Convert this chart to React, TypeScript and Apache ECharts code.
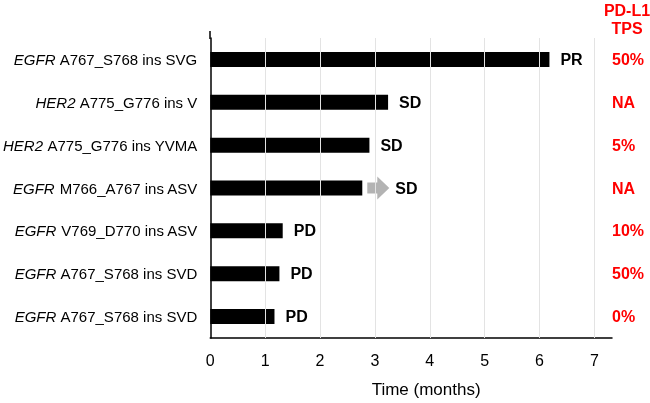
import React, { useEffect, useRef } from "react";
import * as echarts from "echarts";

const genes = ["EGFR", "HER2", "HER2", "EGFR", "EGFR", "EGFR", "EGFR"];
const variants = [
  "A767_S768 ins SVG",
  "A775_G776 ins V",
  "A775_G776 ins YVMA",
  "M766_A767 ins ASV",
  "V769_D770 ins ASV",
  "A767_S768 ins SVD",
  "A767_S768 ins SVD",
];
const months = [6.18, 3.24, 2.9, 2.77, 1.32, 1.26, 1.17];
const responses = ["PR", "SD", "SD", "SD", "PD", "PD", "PD"];
const ongoing = [false, false, false, true, false, false, false];
const tps = ["50%", "NA", "5%", "NA", "10%", "50%", "0%"];
const xTicks = [1, 2, 3, 4, 5, 6, 7];

const FONT = "'Liberation Sans', Arial, sans-serif";

export default function App() {
  const ref = useRef<HTMLDivElement>(null);
  useEffect(() => {
    if (!ref.current) return;
    const chart = echarts.init(ref.current, null, { renderer: "svg" });
    const cats = genes.map((_, i) => String(i));
    const arrowData = months
      .map((m, i) => (ongoing[i] ? [m, i] : null))
      .filter((d) => d !== null);
    chart.setOption({
      animation: false,
      textStyle: { fontFamily: FONT },
      grid: { left: 210, right: 38, top: 38, bottom: 60 },
      xAxis: {
        type: "value",
        min: 0,
        max: 7.32,
        interval: 1,
        axisLine: { show: true, lineStyle: { color: "#000", width: 1.5 } },
        axisTick: { show: false },
        splitLine: { show: false },
        axisLabel: {
          color: "#000",
          fontSize: 16,
          fontFamily: FONT,
          margin: 14,
          showMaxLabel: false,
          formatter: (v: number) => (Number.isInteger(v) ? String(v) : ""),
        },
        name: "Time (months)",
        nameLocation: "middle",
        nameGap: 43,
        nameTextStyle: {
          color: "#000",
          fontSize: 17,
          fontFamily: FONT,
          padding: [0, 0, 0, 30],
        },
      },
      yAxis: [
        {
          type: "category",
          data: cats,
          inverse: true,
          axisLine: { show: true, lineStyle: { color: "#000", width: 1.5 } },
          axisTick: { show: false },
          axisLabel: {
            margin: 13,
            fontSize: 15,
            color: "#000",
            fontFamily: FONT,
            formatter: (_v: string, i: number) => `{i|${genes[i]}} ${variants[i]}`,
            rich: {
              i: { fontStyle: "italic", fontSize: 15, color: "#000", fontFamily: FONT },
            },
          },
        },
        {
          type: "category",
          data: tps,
          inverse: true,
          position: "right",
          axisLine: { show: false },
          axisTick: { show: false },
          axisLabel: {
            margin: 0,
            color: "#ff0000",
            fontWeight: "bold",
            fontSize: 16,
            fontFamily: FONT,
          },
        },
      ],
      graphic: [
        {
          type: "text",
          x: 627,
          y: 1,
          style: {
            text: "PD-L1\nTPS",
            align: "center",
            fill: "#ff0000",
            font: `bold 16px ${FONT}`,
            lineHeight: 18,
          },
        },
        {
          type: "line",
          shape: { x1: 210, y1: 31, x2: 210, y2: 39 },
          style: { stroke: "#000", lineWidth: 1.5 },
        },
      ],
      series: [
        {
          type: "line",
          data: [],
          z: 1,
          silent: true,
          markLine: {
            silent: true,
            symbol: "none",
            label: { show: false },
            lineStyle: { color: "#e3e3e3", type: "solid", width: 1 },
            data: xTicks.map((t) => ({ xAxis: t })),
          },
        },
        {
          type: "bar",
          z: 3,
          barWidth: 15,
          itemStyle: { color: "#000" },
          data: months.map((m, i) => ({
            value: m,
            label: { distance: ongoing[i] ? 33 : 11 },
          })),
          label: {
            show: true,
            position: "right",
            color: "#000",
            fontWeight: "bold",
            fontSize: 16,
            fontFamily: FONT,
            formatter: (p: any) => responses[p.dataIndex],
          },
        },
        {
          type: "custom",
          z: 4,
          data: arrowData,
          encode: { x: 0, y: 1 },
          renderItem: (_params: any, api: any) => {
            const p = api.coord([api.value(0), api.value(1)]);
            const x0 = p[0] + 5;
            const x1 = p[0] + 15;
            const x2 = p[0] + 27;
            const y = p[1];
            return {
              type: "polygon",
              shape: {
                points: [
                  [x0, y - 5.5],
                  [x1, y - 5.5],
                  [x1, y - 11.5],
                  [x2, y],
                  [x1, y + 11.5],
                  [x1, y + 5.5],
                  [x0, y + 5.5],
                ],
              },
              style: { fill: "#b3b3b3" },
            };
          },
        },
      ],
    });
    return () => chart.dispose();
  }, []);
  return (
    <div
      ref={ref}
      style={{ position: "fixed", left: 0, top: 0, width: 650, height: 403 }}
    />
  );
}
